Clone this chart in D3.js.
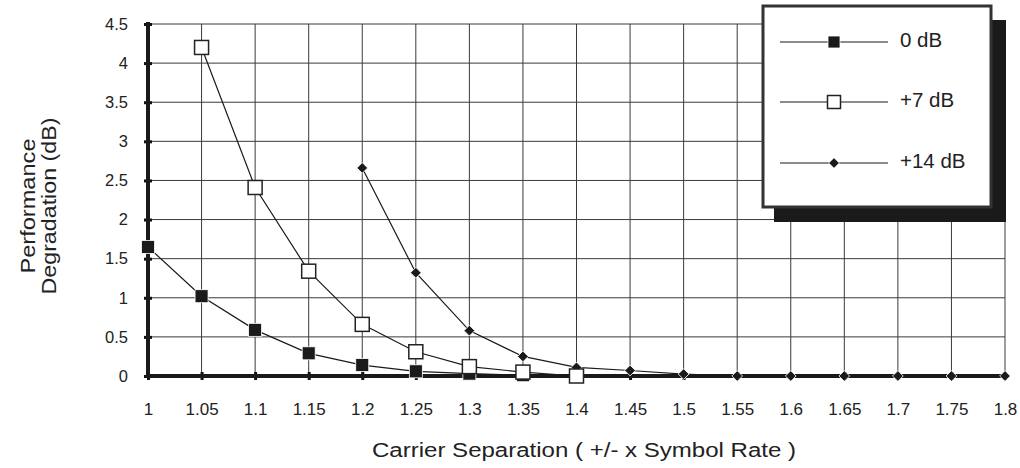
<!DOCTYPE html>
<html>
<head>
<script src="https://d3js.org/d3.v7.min.js"></script>
<style>
  body { margin: 0; background: #fff; }
  text { font-family: "Liberation Sans", Arial, sans-serif; fill: #222; }
</style>
</head>
<body>
<script>
// values
var xTicks = [1, 1.05, 1.1, 1.15, 1.2, 1.25, 1.3, 1.35, 1.4, 1.45, 1.5, 1.55, 1.6, 1.65, 1.7, 1.75, 1.8];
var yTicks = [0, 0.5, 1, 1.5, 2, 2.5, 3, 3.5, 4, 4.5];

var sep0 = [1, 1.05, 1.1, 1.15, 1.2, 1.25, 1.3, 1.35];
var deg0 = [1.65, 1.02, 0.59, 0.29, 0.14, 0.06, 0.03, 0.01];

var sep7 = [1.05, 1.1, 1.15, 1.2, 1.25, 1.3, 1.35, 1.4];
var deg7 = [4.2, 2.41, 1.34, 0.66, 0.31, 0.12, 0.05, 0.0];

var sep14 = [1.2, 1.25, 1.3, 1.35, 1.4, 1.45, 1.5, 1.55, 1.6, 1.65, 1.7, 1.75, 1.8];
var deg14 = [2.66, 1.32, 0.58, 0.25, 0.11, 0.07, 0.025, 0, 0, 0, 0, 0, 0];

var seriesNames = ['0 dB', '+7 dB', '+14 dB'];

var w = 1020, h = 468;
var plotL = 148, plotR = 1005, plotT = 24, plotB = 376;

var svg = d3.select('body').append('svg')
    .attr('width', w)
    .attr('height', h);

var x = d3.scaleLinear().domain([1, 1.8]).range([plotL, plotR]);
var y = d3.scaleLinear().domain([0, 4.5]).range([plotB, plotT]);

// grid
svg.append('g').selectAll('line').data(xTicks.slice(1)).join('line')
    .attr('x1', d => x(d)).attr('x2', d => x(d))
    .attr('y1', y(4.5)).attr('y2', y(0))
    .attr('stroke', '#3a3a3a').attr('stroke-width', 1);
svg.append('g').selectAll('line').data(yTicks.slice(1)).join('line')
    .attr('x1', x(1)).attr('x2', x(1.8))
    .attr('y1', d => y(d)).attr('y2', d => y(d))
    .attr('stroke', '#3a3a3a').attr('stroke-width', 1);

// axes
var xAxis = svg.append('g').attr('transform', 'translate(0,' + y(0) + ')')
    .call(d3.axisBottom(x).tickValues(xTicks).tickSize(4).tickFormat(d3.format('')));
xAxis.select('.domain').remove();
xAxis.selectAll('.tick line').attr('y1', -4).attr('stroke', '#111').attr('stroke-width', 3);
xAxis.selectAll('.tick text').attr('y', 27).attr('font-size', 17).attr('fill', '#222')
    .attr('font-family', '"Liberation Sans", Arial, sans-serif');

var yAxis = svg.append('g').attr('transform', 'translate(' + x(1) + ',0)')
    .call(d3.axisLeft(y).tickValues(yTicks).tickSize(4).tickFormat(d3.format('')));
yAxis.select('.domain').remove();
yAxis.selectAll('.tick line').attr('x1', 4).attr('x2', -4).attr('stroke', '#111').attr('stroke-width', 3);
yAxis.selectAll('.tick text').attr('x', -20).attr('font-size', 16.5).attr('fill', '#222')
    .attr('font-family', '"Liberation Sans", Arial, sans-serif');

svg.append('line')
    .attr('x1', x(1)).attr('x2', x(1.8)).attr('y1', y(0)).attr('y2', y(0))
    .attr('stroke', '#1a1a1a').attr('stroke-width', 4);
svg.append('line')
    .attr('x1', x(1)).attr('x2', x(1)).attr('y1', y(4.5) - 2).attr('y2', y(0) + 2)
    .attr('stroke', '#1a1a1a').attr('stroke-width', 4);

// series lines
var line = d3.line().x(d => x(d[0])).y(d => y(d[1]));
var data0 = d3.zip(sep0, deg0), data7 = d3.zip(sep7, deg7), data14 = d3.zip(sep14, deg14);

function drawSquare(g, pts, fill, size) {
    g.selectAll(null).data(pts).join('rect')
        .attr('x', d => x(d[0]) - size / 2).attr('y', d => y(d[1]) - size / 2)
        .attr('width', size).attr('height', size)
        .attr('fill', fill).attr('stroke', fill == '#fff' ? '#222' : '#fff')
        .attr('stroke-width', fill == '#fff' ? 1.5 : 0.8);
}
function drawDiamond(g, pts) {
    g.selectAll(null).data(pts).join('rect')
        .attr('x', -3.8).attr('y', -3.8).attr('width', 7.6).attr('height', 7.6)
        .attr('transform', d => 'translate(' + x(d[0]) + ',' + y(d[1]) + ') rotate(45)')
        .attr('fill', '#1a1a1a').attr('stroke', '#fff').attr('stroke-width', 0.8);
}

[data0, data7, data14].forEach(function(ds) {
    svg.append('path').attr('d', line(ds))
        .attr('fill', 'none').attr('stroke', '#1a1a1a').attr('stroke-width', 1.2);
});
drawDiamond(svg.append('g'), data14);
drawSquare(svg.append('g'), data0, '#1a1a1a', 13);
drawSquare(svg.append('g'), data7, '#fff', 14);

// legend
var lg = svg.append('g');
lg.append('rect').attr('x', 774).attr('y', 20).attr('width', 232).attr('height', 202).attr('fill', '#1a1a1a');
lg.append('rect').attr('x', 763).attr('y', 6).attr('width', 228).attr('height', 201)
    .attr('fill', '#fff').attr('stroke', '#333').attr('stroke-width', 3);
var rows = [42, 102, 163];
rows.forEach(function(ry, i) {
    lg.append('line').attr('x1', 780).attr('x2', 888).attr('y1', ry).attr('y2', ry)
        .attr('stroke', '#1a1a1a').attr('stroke-width', 1.2);
    lg.append('text').attr('x', 900).attr('y', ry + 5).attr('font-size', 20.5).text(seriesNames[i]);
});
drawSquare(lg, [[x.invert(834), y.invert(rows[0])]], '#1a1a1a', 12);
drawSquare(lg, [[x.invert(834), y.invert(rows[1])]], '#fff', 13);
drawDiamond(lg, [[x.invert(834), y.invert(rows[2])]]);

// titles
svg.append('text').attr('x', 584).attr('y', 457).attr('text-anchor', 'middle')
    .attr('font-size', 19.5).attr('textLength', 424).attr('lengthAdjust', 'spacingAndGlyphs')
    .text('Carrier Separation ( +/- x Symbol Rate )');
svg.append('text').attr('transform', 'translate(35,206) rotate(-90)')
    .attr('text-anchor', 'middle').attr('font-size', 20.5)
    .attr('textLength', 135).attr('lengthAdjust', 'spacingAndGlyphs').text('Performance');
svg.append('text').attr('transform', 'translate(56,206) rotate(-90)')
    .attr('text-anchor', 'middle').attr('font-size', 20.5)
    .attr('textLength', 177).attr('lengthAdjust', 'spacingAndGlyphs').text('Degradation (dB)');
</script>
</body>
</html>
